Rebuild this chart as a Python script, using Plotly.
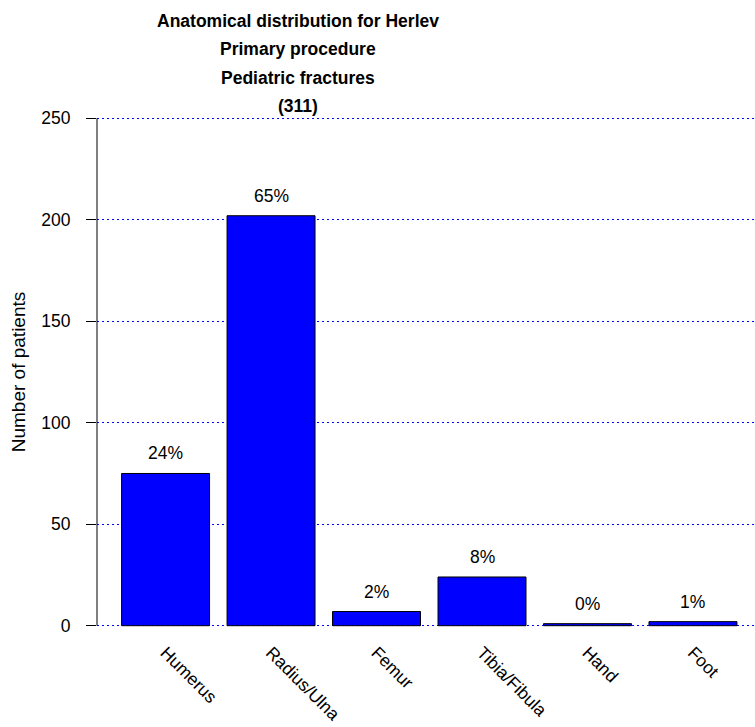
import plotly.graph_objects as go

categories = ["Humerus", "Radius/Ulna", "Femur", "Tibia/Fibula", "Hand", "Foot"]
patients = [75, 202, 7, 24, 1, 2]
total = 311
pct_labels = ["24%", "65%", "2%", "8%", "0%", "1%"]
title_lines = ["Anatomical distribution for Herlev", "Primary procedure",
               "Pediatric fractures", "(311)"]
y_ticks = [0, 50, 100, 150, 200, 250]

W, H = 755, 727
L, R, T, B = 97, 0, 98, 81
plot_h = H - T - B

xpos = list(range(len(categories)))

fig = go.Figure()
fig.add_trace(go.Bar(
    x=xpos, y=patients, width=0.834,
    marker=dict(color="#0000FF", line=dict(color="black", width=1)),
    hoverinfo="x+y",
))

plain = "Liberation Sans, Arial, sans-serif"
for xi, v, t in zip(xpos, patients, pct_labels):
    fig.add_annotation(x=xi, y=v, xref="x", yref="y", text=t, showarrow=False,
                       yanchor="bottom", yshift=8,
                       font=dict(family=plain, size=17.5, color="black"))

title_mid_px = [21, 49, 78, 106]
for line, py in zip(title_lines, title_mid_px):
    fig.add_annotation(x=(298 - L) / (W - L - R), y=1 + (T - py) / plot_h,
                       xref="paper", yref="paper", text="<b>" + line + "</b>",
                       showarrow=False, yanchor="middle", xanchor="center",
                       font=dict(family="Liberation Sans, Arial, sans-serif",
                                 size=17.5, color="black"))

fig.add_shape(type="line", xref="paper", yref="y", x0=0, x1=0, y0=0, y1=250,
              line=dict(color="black", width=1))

fig.update_layout(
    width=W, height=H,
    margin=dict(l=L, r=R, t=T, b=B, autoexpand=False),
    paper_bgcolor="white", plot_bgcolor="white",
    showlegend=False,
    font=dict(family=plain, size=17, color="black"),
    xaxis=dict(range=[-0.650, 5.588], tickvals=xpos, ticktext=categories,
               tickangle=45, showgrid=False, zeroline=False, showline=False,
               ticks="", tickfont=dict(size=17.5), ticklabelstandoff=-8),
    yaxis=dict(range=[-10, 260], tickvals=y_ticks, ticks="outside", ticklen=10,
               tickcolor="black", tickwidth=1, showline=False, zeroline=False,
               showgrid=True, gridcolor="#0000FF", gridwidth=1, griddash="2px,3px",
               ticklabelstandoff=12, tickfont=dict(size=17.5),
               title=dict(text="Number of patients", font=dict(size=19), standoff=10)),
)
fig.write_html("out.html", config={"displayModeBar": False},
               post_script="document.body.style.margin='0px';")
